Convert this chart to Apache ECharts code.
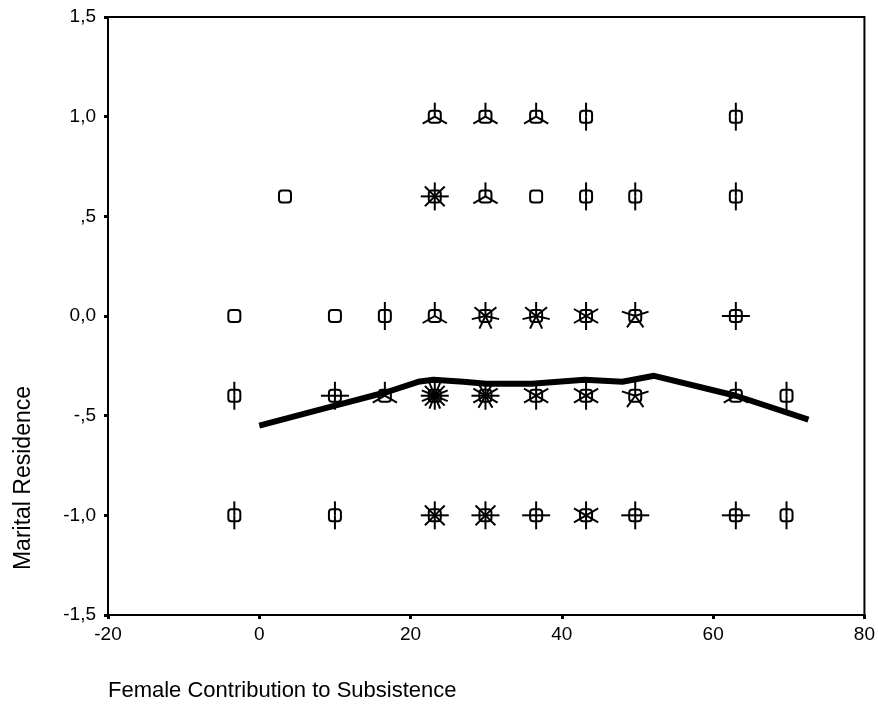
<!DOCTYPE html>
<html>
<head>
    <title>Marital Residence</title>
    <meta charset="utf-8" />
    <script src="https://cdn.jsdelivr.net/npm/echarts@6/dist/echarts.min.js"></script>
    <style>
        html, body { margin: 0; padding: 0; background: #fff; }
        #chart { width: 878px; height: 712px; }
    </style>
</head>
<body>
    <div id="chart"></div>
    <script>
        // sunflower points: x, y, count of cases (petals)
        var xValues = [
            23.2, 29.9, 36.6, 43.2, 63.0,
            3.4, 23.2, 29.9, 36.6, 43.2, 49.7, 63.0,
            -3.3, 10.0, 16.6, 23.2, 29.9, 36.6, 43.2, 49.7, 63.0,
            -3.3, 10.0, 16.6, 23.2, 29.9, 36.6, 43.2, 49.7, 63.0, 69.7,
            -3.3, 10.0, 23.2, 29.9, 36.6, 43.2, 49.7, 63.0, 69.7
        ];
        var yValues = [
            1, 1, 1, 1, 1,
            0.6, 0.6, 0.6, 0.6, 0.6, 0.6, 0.6,
            0, 0, 0, 0, 0, 0, 0, 0, 0,
            -0.4, -0.4, -0.4, -0.4, -0.4, -0.4, -0.4, -0.4, -0.4, -0.4,
            -1, -1, -1, -1, -1, -1, -1, -1, -1
        ];
        var counts = [
            3, 3, 3, 2, 2,
            1, 8, 3, 1, 2, 2, 2,
            1, 1, 2, 3, 7, 7, 6, 5, 4,
            2, 4, 3, 16, 12, 6, 6, 5, 3, 2,
            2, 2, 8, 8, 4, 6, 4, 4, 2
        ];

        // fit line
        var fitX = [0, 10, 17, 21, 23, 27, 30, 36, 43, 48, 52.2, 63, 72.6];
        var fitY = [-0.55, -0.45, -0.38, -0.33, -0.32, -0.33, -0.34, -0.34, -0.32, -0.33, -0.30, -0.40, -0.52];

        var yTickLabels = { '1.5': '1,5', '1': '1,0', '0.5': ',5', '0': '0,0', '-0.5': '-,5', '-1': '-1,0', '-1.5': '-1,5' };

        var points = xValues.map(function (x, i) { return [x, yValues[i], counts[i]]; });
        var fitLine = fitX.map(function (x, i) { return [x, fitY[i]]; });

        function renderSunflower(params, api) {
            var c = api.coord([api.value(0), api.value(1)]);
            var n = api.value(2);
            var children = [];
            var petal = 14;
            if (n >= 2) {
                for (var k = 0; k < n; k++) {
                    var a = Math.PI / 2 + k * 2 * Math.PI / n;
                    children.push({
                        type: 'line',
                        shape: { x1: c[0], y1: c[1], x2: c[0] + petal * Math.cos(a), y2: c[1] - petal * Math.sin(a) },
                        style: { stroke: '#000', lineWidth: 2 }
                    });
                }
            }
            children.push({
                type: 'rect',
                shape: { x: c[0] - 6, y: c[1] - 6, width: 12, height: 12, r: 3 },
                style: { fill: 'transparent', stroke: '#000', lineWidth: 2 }
            });
            return { type: 'group', children: children };
        }

        var chart = echarts.init(document.getElementById('chart'));
        chart.setOption({
            animation: false,
            backgroundColor: '#fff',
            grid: { left: 108, right: 8, top: 17, bottom: 97, show: true, borderColor: '#000', borderWidth: 2 },
            xAxis: {
                type: 'value', min: -20, max: 80, interval: 20,
                axisLine: { onZero: false, lineStyle: { color: '#000', width: 2 } },
                axisTick: { length: 4, lineStyle: { color: '#000', width: 3 } },
                axisLabel: { color: '#000', fontSize: 19, fontFamily: 'Liberation Sans', margin: 10 },
                splitLine: { show: false }
            },
            yAxis: {
                type: 'value', min: -1.5, max: 1.5, interval: 0.5,
                axisLine: { onZero: false, lineStyle: { color: '#000', width: 2 } },
                axisTick: { length: 4, lineStyle: { color: '#000', width: 3 } },
                axisLabel: {
                    color: '#000', fontSize: 19, fontFamily: 'Liberation Sans', margin: 12,
                    formatter: function (v) { return yTickLabels[String(v)] || String(v); }
                },
                splitLine: { show: false }
            },
            graphic: [
                {
                    type: 'text', left: 108, top: 680,
                    style: { text: 'Female Contribution to Subsistence', fontSize: 22, fontFamily: 'Liberation Sans', fill: '#000' }
                },
                {
                    type: 'text', x: 12, y: 478, rotation: Math.PI / 2,
                    style: { text: 'Marital Residence', fontSize: 23, fontFamily: 'Liberation Sans', fill: '#000', align: 'center', verticalAlign: 'top' }
                }
            ],
            series: [
                {
                    type: 'custom',
                    renderItem: renderSunflower,
                    data: points,
                    encode: { x: 0, y: 1 },
                    z: 2
                },
                {
                    type: 'line',
                    data: fitLine,
                    showSymbol: false,
                    lineStyle: { color: '#000', width: 6 },
                    z: 3
                }
            ]
        });
    </script>
</body>
</html>
